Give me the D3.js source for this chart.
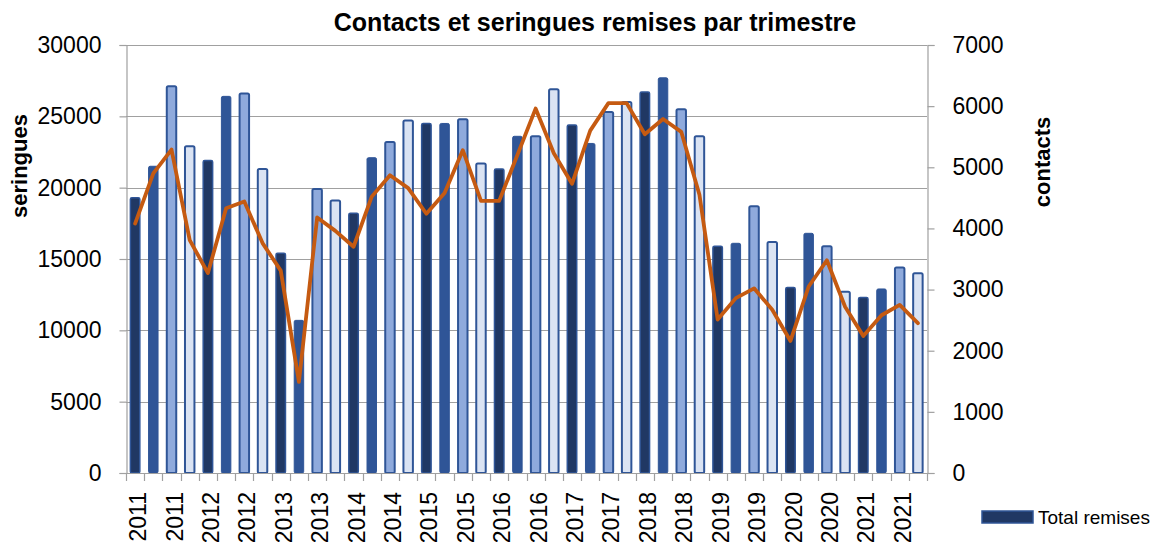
<!DOCTYPE html>
<html>
<head>
<meta charset="utf-8">
<script src="https://cdn.jsdelivr.net/npm/d3@7"></script>
<style>
  body { margin: 0; background: #fff; }
  text { font-family: "Liberation Sans", Arial, sans-serif; fill: #000; }
</style>
</head>
<body>
<main></main>
<script>
// data, one entry per quarter (T1..T4), 2011 -> 2021
const years = ["2011","2012","2013","2014","2015","2016","2017","2018","2019","2020","2021"];
const categories = years.flatMap(y => [y, y, y, y]);   // axis label of each quarter
const seringues = [
  19300, 21500, 27100, 22900,
  21900, 26400, 26600, 21300,
  15400, 10700, 19900, 19100,
  18200, 22100, 23200, 24700,
  24500, 24500, 24800, 21700,
  21300, 23600, 23600, 26900,
  24400, 23100, 25300, 26000,
  26700, 27700, 25500, 23600,
  15900, 16100, 18700, 16200,
  13000, 16800, 15900, 12700,
  12300, 12900, 14400, 14000
];
const contacts = [
  4080, 4900, 5290, 3810,
  3270, 4330, 4440, 3760,
  3310, 1490, 4180, 3960,
  3700, 4520, 4870, 4660,
  4240, 4580, 5280, 4450,
  4450, 5200, 5960, 5230,
  4730, 5600, 6050, 6050,
  5540, 5790, 5580, 4550,
  2510, 2860, 3020, 2670,
  2160, 3050, 3480, 2720,
  2240, 2580, 2750, 2450
];
const leftTicks = [0, 5000, 10000, 15000, 20000, 25000, 30000];
const rightTicks = [0, 1000, 2000, 3000, 4000, 5000, 6000, 7000];

const size = { width: 1157, height: 546 };
const plot = { left: 126, right: 927, top: 45, bottom: 473 };

// fill / border for each quarter of the year
const quarterStyle = [
  { fill: "#203864", stroke: "#2F5597", sw: 1.5 },
  { fill: "#2F5597", stroke: "#2F5597", sw: 1 },
  { fill: "#8FAADC", stroke: "#2F5597", sw: 2 },
  { fill: "#DAE3F3", stroke: "#2F5597", sw: 2 }
];
const gridColor = "#A0A0A0";

const svg = d3.select("main").append("svg")
  .attr("width", size.width)
  .attr("height", size.height);

const idx = d3.range(categories.length);
const x = d3.scaleBand().domain(idx).range([plot.left, plot.right]).paddingInner(0.48).paddingOuter(0.24);
const yL = d3.scaleLinear().domain([0, 30000]).range([plot.bottom, plot.top]);
const yR = d3.scaleLinear().domain([0, 7000]).range([plot.bottom, plot.top]);

// gridlines
svg.append("g")
  .selectAll("line")
  .data(leftTicks)
  .join("line")
    .attr("x1", plot.left).attr("x2", plot.right)
    .attr("y1", d => Math.round(yL(d)) + 0.5).attr("y2", d => Math.round(yL(d)) + 0.5)
    .attr("stroke", gridColor).attr("stroke-width", 1.2);

// left axis
const gL = svg.append("g")
  .attr("transform", `translate(${plot.left + 0.5},0)`)
  .call(d3.axisLeft(yL).tickValues(leftTicks).tickSize(7).tickPadding(18).tickFormat(d3.format("d")));
// right axis
const gR = svg.append("g")
  .attr("transform", `translate(${plot.right + 0.5},0)`)
  .call(d3.axisRight(yR).tickValues(rightTicks).tickSize(7).tickPadding(18).tickFormat(d3.format("d")));

[gL, gR].forEach(g => {
  g.select(".domain").attr("stroke", gridColor).attr("stroke-width", 1.2);
  g.selectAll(".tick line").attr("stroke", gridColor).attr("stroke-width", 1.2);
  g.selectAll(".tick text")
    .style("font-family", '"Liberation Sans", Arial, sans-serif')
    .style("font-size", "23px").attr("fill", "#262626");
});

// bars
svg.append("g")
  .selectAll("rect")
  .data(seringues)
  .join("rect")
    .attr("x", (d, i) => x(i))
    .attr("y", d => yL(d))
    .attr("width", x.bandwidth())
    .attr("height", d => yL(0) - yL(d))
    .attr("rx", 1.5)
    .attr("fill", (d, i) => quarterStyle[i % 4].fill)
    .attr("stroke", (d, i) => quarterStyle[i % 4].stroke)
    .attr("stroke-width", (d, i) => quarterStyle[i % 4].sw);

// bottom axis: ticks at every category boundary, labels every second quarter
const boundaries = d3.range(categories.length + 1).map(i => plot.left + i * (plot.right - plot.left) / categories.length);
svg.append("line")
  .attr("x1", plot.left).attr("x2", plot.right)
  .attr("y1", plot.bottom + 0.5).attr("y2", plot.bottom + 0.5)
  .attr("stroke", gridColor).attr("stroke-width", 1.2);
svg.append("g")
  .selectAll("line")
  .data(boundaries)
  .join("line")
    .attr("x1", d => Math.round(d) + 0.5).attr("x2", d => Math.round(d) + 0.5)
    .attr("y1", plot.bottom).attr("y2", plot.bottom + 8)
    .attr("stroke", gridColor).attr("stroke-width", 1.2);

const gX = svg.append("g")
  .attr("transform", `translate(0,${plot.bottom})`)
  .call(d3.axisBottom(x).tickValues(idx.filter(i => i % 2 === 0)).tickSize(0).tickFormat(i => categories[i]));
gX.select(".domain").remove();
gX.selectAll(".tick text")
  .style("font-family", '"Liberation Sans", Arial, sans-serif')
  .style("font-size", "23px").attr("fill", "#262626")
  .attr("transform", "rotate(-90)")
  .attr("text-anchor", "end")
  .attr("x", -19)
  .attr("y", 3)
  .attr("dy", "0.35em");

// contacts line
const line = d3.line()
  .x((d, i) => x(i) + x.bandwidth() / 2)
  .y(d => yR(d));
svg.append("path")
  .datum(contacts)
  .attr("d", line)
  .attr("fill", "none")
  .attr("stroke", "#C55A11")
  .attr("stroke-width", 3.8)
  .attr("stroke-linejoin", "round")
  .attr("stroke-linecap", "round");

// titles
svg.append("text")
  .attr("x", 595).attr("y", 22)
  .attr("text-anchor", "middle").attr("dominant-baseline", "central")
  .style("font-size", "25px").style("font-weight", "bold")
  .text("Contacts et seringues remises par trimestre");

svg.append("text")
  .attr("transform", "translate(27,166) rotate(-90)")
  .attr("text-anchor", "middle")
  .style("font-size", "22px").style("font-weight", "bold")
  .text("seringues");

svg.append("text")
  .attr("transform", "translate(1050,162) rotate(-90)")
  .attr("text-anchor", "middle")
  .style("font-size", "22px").style("font-weight", "bold")
  .text("contacts");

// legend
const legend = svg.append("g").attr("transform", "translate(982,511)");
legend.append("rect")
  .attr("width", 51).attr("height", 12)
  .attr("fill", quarterStyle[0].fill)
  .attr("stroke", quarterStyle[0].stroke).attr("stroke-width", 1.5);
legend.append("text")
  .attr("x", 56).attr("y", 6).attr("dominant-baseline", "central")
  .style("font-size", "19px").attr("fill", "#262626")
  .text("Total remises");
</script>
</body>
</html>
